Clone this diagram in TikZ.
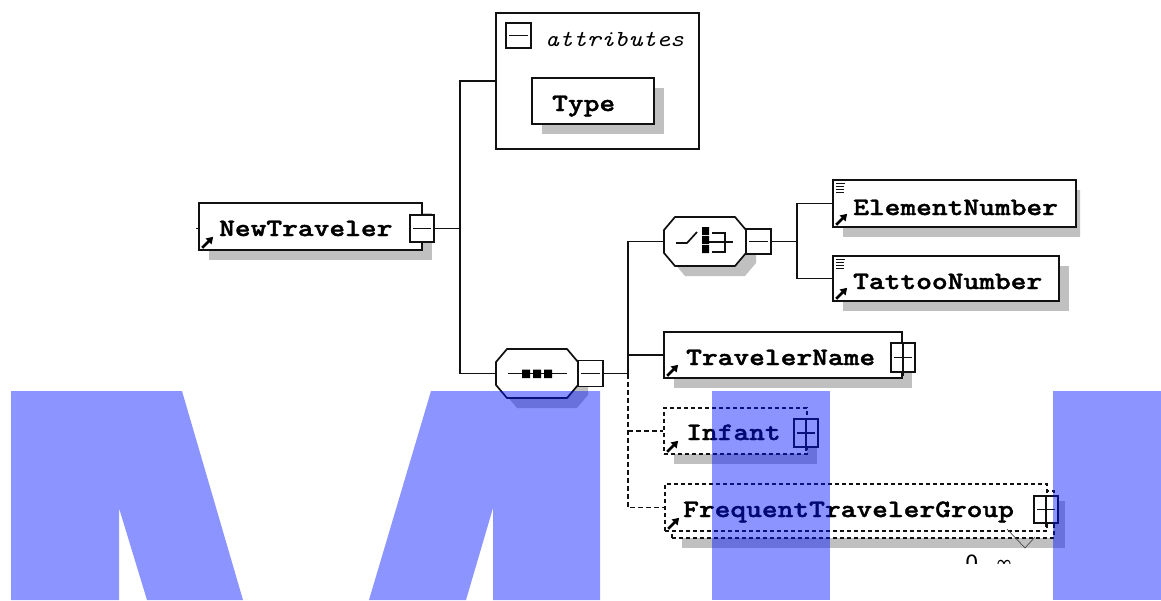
\documentclass[tikz,border=0pt]{standalone}
\usepackage{fontspec}
\newfontfamily\lblfont[FakeStretch=1.2,FakeBold=1.6]{lmmonolt10-bold.otf}
\newfontfamily\italfont[FakeStretch=1.15]{lmmono10-italic.otf}
\newfontfamily\symfont{DejaVu Sans}
\usetikzlibrary{arrows.meta}
\definecolor{shadowgray}{HTML}{C0C0C0}
\definecolor{wmblue}{RGB}{0,20,255}
\definecolor{ink}{HTML}{111111}
\begin{document}
\begin{tikzpicture}[x=1pt,y=-1pt,
  elem/.style={draw=ink, line width=1.7pt, fill=white, inner sep=0pt, rectangle},
  delem/.style={elem, dash pattern=on 4pt off 3pt},
  pmbox/.style={draw=ink, line width=1.7pt, fill=white, inner sep=0pt, rectangle, minimum width=24pt, minimum height=26pt},
  inv/.style={inner sep=0pt, rectangle},
  lbl/.style={font=\lblfont\fontsize{25}{25}\selectfont, anchor=base west, inner sep=0pt, text=black},
  ital/.style={font=\italfont\fontsize{23}{23}\selectfont, anchor=base west, inner sep=0pt, text=black},
  conn/.style={line width=1.7pt, draw=ink},
  dconn/.style={conn, dash pattern=on 5pt off 3pt},
  refarr/.style={line width=2.6pt, draw=black, -{Triangle[length=6.5pt,width=8pt]}},
  sym/.style={line width=1.7pt, draw=ink},
  wm/.style={fill=wmblue, fill opacity=0.45, draw=none}
]
\useasboundingbox (0,0) rectangle (1161,600);

% ---------- attributes group ----------
\node[elem, minimum width=203pt, minimum height=136pt] (attr) at (597.5,81) {};
\node[pmbox, minimum width=25pt, minimum height=25pt] (attrm) at (518.5,35.5) {};
\draw[sym] ([xshift=4pt]attrm.west) -- ([xshift=-4pt]attrm.east);
\node[ital] (attrlbl) at (545,46) {attributes};
\fill[shadowgray] (542,88) rectangle (664,134);
\node[elem, minimum width=122pt, minimum height=46pt] (type) at (593,101) {};
\node[lbl] (typelbl) at (552,111) {Type};

% ---------- NewTraveler ----------
\fill[shadowgray] (209,213) rectangle (432,260);
\node[elem, minimum width=223pt, minimum height=47pt] (nt) at (310.5,226.5) {};
\node[pmbox, minimum height=27pt] (ntm) at (422,228.5) {};
\draw[sym] ([xshift=4pt]ntm.west) -- ([xshift=-4pt]ntm.east);
\node[lbl] (ntlbl) at (219,236) {NewTraveler};
\draw[refarr] ([xshift=4pt,yshift=3pt]nt.south west) -- ++(11,-11);
\coordinate (ntin) at (196,228.5);
\draw[conn] (ntin) -- (nt.west |- ntin);

% ---------- sequence compositor ----------
\fill[shadowgray] (517,359) -- (577,359) -- (588,372) -- (588,395) -- (577,408) -- (517,408) -- (506,395) -- (506,372) -- cycle;
\node[inv, minimum width=82pt, minimum height=49pt] (seq) at (537,373.5) {};
\filldraw[sym, fill=white] (507,349) -- (567,349) -- (578,362) -- (578,385) -- (567,398) -- (507,398) -- (496,385) -- (496,362) -- cycle;
\draw[sym] (508,373.5) -- (567,373.5);
\fill[black] (522,369.5) rectangle (530,378) (533,369.5) rectangle (541,378) (544,369.5) rectangle (552,378);
\node[pmbox, minimum width=25pt] (seqm) at (590.5,373.5) {};
\draw[sym] ([xshift=4pt]seqm.west) -- ([xshift=-4pt]seqm.east);

% ---------- choice compositor ----------
\fill[shadowgray] (685,227) -- (745,227) -- (756,240) -- (756,263) -- (745,276) -- (685,276) -- (674,263) -- (674,240) -- cycle;
\node[inv, minimum width=82pt, minimum height=49pt] (cho) at (705,241.5) {};
\filldraw[sym, fill=white] (675,217) -- (735,217) -- (746,230) -- (746,253) -- (735,266) -- (675,266) -- (664,253) -- (664,230) -- cycle;
\draw[sym] (676,243) -- (687,243) -- (697,232);
\fill[black] (702,227) rectangle (709,235) (702,236) rectangle (709,244) (702,245) rectangle (709,253);
\draw[sym] (712,233) -- (725,233) -- (725,252) -- (712,252);
\draw[sym] (709,242) -- (733,242);
\node[pmbox, minimum width=25pt, minimum height=25pt] (chom) at (758.5,241.5) {};
\draw[sym] ([xshift=4pt]chom.west) -- ([xshift=-4pt]chom.east);

% ---------- ElementNumber ----------
\begin{scope}
\clip (0,0) rectangle (1080,600);
\fill[shadowgray] (843,190) rectangle (1086,237);
\end{scope}
\node[elem, minimum width=243pt, minimum height=47pt] (en) at (954.5,203.5) {};
\node[lbl] (enlbl) at (853,215) {ElementNumber};
\draw[line width=1.2pt, ink] (836,183.5) -- (845,183.5) (836,186.5) -- (844,186.5) (836,189.5) -- (844,189.5) (836,192.5) -- (844,192.5);
\draw[refarr] ([xshift=4pt,yshift=3pt]en.south west) -- ++(11,-11);

% ---------- TattooNumber ----------
\fill[shadowgray] (843,266) rectangle (1069,311);
\node[elem, minimum width=226pt, minimum height=45pt] (tt) at (946,278.5) {};
\node[lbl] (ttlbl) at (853,289) {TattooNumber};
\draw[line width=1.2pt, ink] (836,259.5) -- (845,259.5) (836,262.5) -- (844,262.5) (836,265.5) -- (844,265.5) (836,268.5) -- (844,268.5);
\draw[refarr] ([xshift=4pt,yshift=3pt]tt.south west) -- ++(11,-11);

% ---------- TravelerName ----------
\fill[shadowgray] (674,342) rectangle (912,388);
\node[elem, minimum width=238pt, minimum height=46pt] (tn) at (783,355) {};
\node[lbl] (tnlbl) at (686,365) {TravelerName};
\draw[refarr] ([xshift=4pt,yshift=3pt]tn.south west) -- ++(11,-11);
\node[pmbox, minimum height=29pt] (tnp) at (903,357.5) {};
\draw[sym] ([xshift=4pt]tnp.west) -- ([xshift=-4pt]tnp.east);
\draw[sym] (tnp.north) -- ([yshift=-3pt]tnp.south);

% ---------- Infant ----------
\fill[shadowgray] (674,418) rectangle (817,464);
\node[delem, minimum width=143pt, minimum height=46pt] (inf) at (735.5,431) {};
\node[lbl] (inflbl) at (686,440) {Infant};
\draw[refarr] ([xshift=4pt,yshift=3pt]inf.south west) -- ++(11,-11);
\node[pmbox, minimum height=28pt] (infp) at (806,433) {};
\draw[sym] ([xshift=4pt]infp.west) -- ([xshift=-4pt]infp.east);
\draw[sym] (infp.north) -- ([yshift=-3pt]infp.south);

% ---------- FrequentTravelerGroup ----------
\fill[shadowgray] (682,501) rectangle (1065,548);
\node[delem, minimum width=382pt, minimum height=47pt] (ftgb) at (863,514.5) {};
\node[delem, minimum width=382pt, minimum height=47pt] (ftg) at (856,507.5) {};
\node[lbl] (ftglbl) at (683,517) {FrequentTravelerGroup};
\draw[refarr] ([xshift=4pt,yshift=3pt]ftg.south west) -- ++(11,-11);
\node[pmbox, minimum height=27pt] (ftgp) at (1046,509.5) {};
\draw[sym] ([xshift=4pt]ftgp.west) -- ([xshift=-4pt]ftgp.east);
\draw[sym] (ftgp.north) -- ([yshift=-3pt]ftgp.south);
\coordinate (va) at (1007,529);
\coordinate (vb) at (1025,548);
\coordinate (vc) at (1035,537);
\draw[line width=0.7pt, black!70] (va) -- (vb) -- (vc);
\begin{scope}
\clip (900,540) rectangle (1100,563);
\node[anchor=base west, inner sep=0pt, font=\symfont\fontsize{21}{21}\selectfont] (occ) at (965,570) {0..\,∞};
\end{scope}

% ---------- connectors ----------
\coordinate (j1) at (460,228.5);
\draw[conn] (ntm.east) -- (j1);
\draw[conn] (attr.west) -| (j1) |- (seq.west);
\coordinate (j2) at (628,373.5);
\draw[conn] (seqm.east) -- (j2);
\draw[conn] (cho.west) -| (j2);
\draw[conn] (tn.west) -| (j2);
\draw[dconn] (j2) |- (ftg.west);
\draw[dconn] (j2 |- inf.west) -- (inf.west);
\coordinate (j3) at (797,241.5);
\draw[conn] (chom.east) -- (j3);
\draw[conn] (en.west) -| (j3) |- (tt.west);

% ---------- watermark ----------
\fill[wm] (11,391) -- (182,391) -- (243,600) -- (147,600) -- (119,508) -- (119,600) -- (11,600) -- cycle;
\fill[wm] (431,391) -- (600,391) -- (600,600) -- (493,600) -- (493,508) -- (466,600) -- (369,600) -- cycle;
\fill[wm] (712,391) rectangle (830,600);
\fill[wm] (1053,391) rectangle (1161,600);
\end{tikzpicture}
\end{document}
